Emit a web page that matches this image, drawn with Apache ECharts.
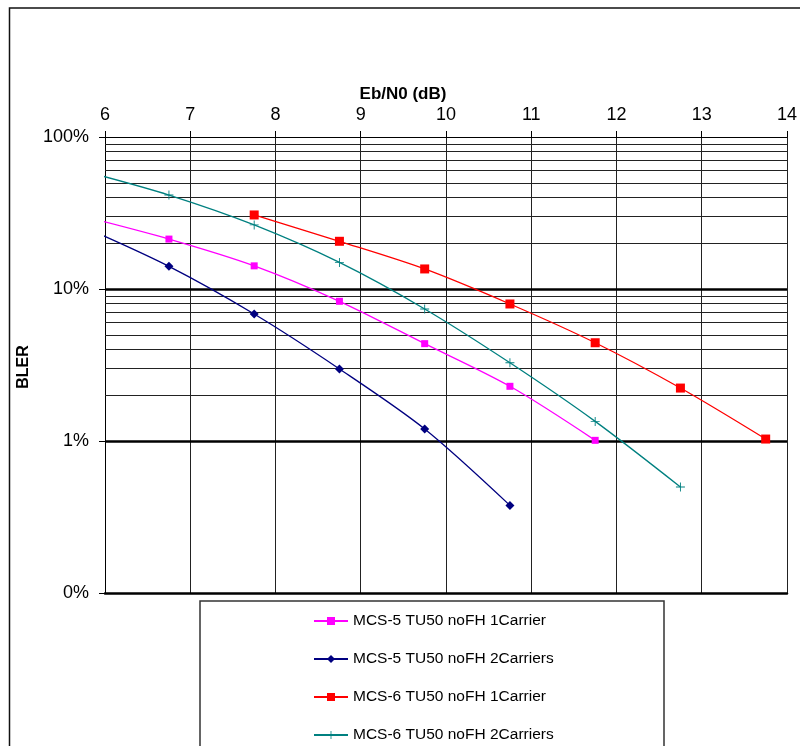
<!DOCTYPE html>
<html>
<head>
<meta charset="utf-8">
<script src="https://cdn.jsdelivr.net/npm/echarts@6/dist/echarts.min.js"></script>
<style>
  html, body { margin: 0; background: #fff; }
  #chart { width: 800px; height: 746px; }
</style>
</head>
<body>
<div id="chart"></div>
<script>
// series names, as in the legend
const seriesNames = [
  "MCS-5 TU50 noFH 1Carrier",
  "MCS-5 TU50 noFH 2Carriers",
  "MCS-6 TU50 noFH 1Carrier",
  "MCS-6 TU50 noFH 2Carriers",
];
const seriesColors = ["#FF00FF", "#000080", "#FF0000", "#008080"];

// Eb/N0 (dB) and BLER (fraction)
const ebn0Mcs5One = [5.75, 6.75, 7.75, 8.75, 9.75, 10.75, 11.75];
const blerMcs5One = [0.3, 0.213, 0.142, 0.083, 0.0437, 0.0229, 0.0101];
const ebn0Mcs5Two = [5.75, 6.75, 7.75, 8.75, 9.75, 10.75];
const blerMcs5Two = [0.256, 0.141, 0.0685, 0.0298, 0.012, 0.00377];
const ebn0Mcs6One = [7.75, 8.75, 9.75, 10.75, 11.75, 12.75, 13.75];
const blerMcs6One = [0.307, 0.206, 0.1355, 0.0797, 0.0443, 0.0223, 0.0103];
const ebn0Mcs6Two = [5.75, 6.75, 7.75, 8.75, 9.75, 10.75, 11.75, 12.75];
const blerMcs6Two = [0.597, 0.415, 0.264, 0.1496, 0.0739, 0.0327, 0.01346, 0.00498];

const xTicks = [6, 7, 8, 9, 10, 11, 12, 13, 14];
const decades = [0.001, 0.01, 0.1];
const minorSteps = [2, 3, 4, 5, 6, 7, 8, 9];
const heavyLines = [0.01, 0.1];

const pairs = (xs, ys) => ys.map((y, i) => [xs[i], y]);
const plusPath = "path://M0,3.6H8V4.4H0Z M3.6,0H4.4V8H3.6Z";

const minorGrid = [];
decades.forEach((d) => minorSteps.forEach((s) => minorGrid.push(+(d * s).toPrecision(3))));

const chart = echarts.init(document.getElementById("chart"));

const lineSeries = (idx, xs, ys, symbol, size) => ({
  name: seriesNames[idx],
  type: "line",
  data: pairs(xs, ys),
  smooth: 0.3,
  symbol: symbol,
  symbolSize: size,
  showSymbol: true,
  z: 5,
  itemStyle: { color: seriesColors[idx] },
  lineStyle: { color: seriesColors[idx], width: 1.3 },
  animation: false,
});

const labelFont = { color: "#000", fontFamily: "Liberation Sans", fontSize: 18 };

chart.setOption({
  backgroundColor: "#fff",
  animation: false,
  grid: { left: 105, top: 137, width: 685, height: 456, containLabel: false },
  xAxis: [
    {
      type: "value",
      position: "top",
      min: 6,
      max: 14,
      interval: 1,
      axisLine: { show: true, lineStyle: { color: "#000", width: 1 } },
      axisTick: { show: true, inside: false, length: 6, lineStyle: { color: "#000" } },
      axisLabel: Object.assign({ margin: 13, formatter: (v) => (xTicks.includes(v) ? String(v) : "") }, labelFont),
      splitLine: { show: true, lineStyle: { color: "#222", width: 1 } },
    },
    {
      type: "value",
      position: "bottom",
      min: 6,
      max: 14,
      interval: 1,
      axisLine: { show: true, lineStyle: { color: "#000", width: 2.5 } },
      axisTick: { show: false },
      axisLabel: { show: false },
      splitLine: { show: false },
    },
  ],
  yAxis: {
    type: "log",
    logBase: 10,
    min: 0.001,
    max: 1,
    axisLine: { show: true, lineStyle: { color: "#000", width: 1 } },
    axisTick: { show: true, inside: false, length: 6, lineStyle: { color: "#000" } },
    axisLabel: Object.assign({ margin: 16, formatter: (v) => Math.round(v * 100) + "%" }, labelFont),
    splitLine: { show: true, lineStyle: { color: "#000", width: 1 } },
    minorTick: { show: false },
    minorSplitLine: { show: false },
  },
  legend: {
    data: seriesNames,
    orient: "vertical",
    left: 308,
    top: 608,
    height: 138,
    itemWidth: 34,
    itemHeight: 10,
    itemGap: 22,
    textStyle: { color: "#000", fontFamily: "Liberation Sans", fontSize: 15.5 },
  },
  graphic: [
    {
      type: "rect",
      shape: { x: 9.5, y: 8, width: 800, height: 760 },
      style: { fill: "none", stroke: "#111", lineWidth: 1.5 },
      z: -10,
    },
    {
      type: "rect",
      shape: { x: 200, y: 601, width: 464, height: 170 },
      style: { fill: "#fff", stroke: "#333", lineWidth: 1.5 },
      z: -1,
    },
    {
      type: "text",
      x: 403,
      y: 94,
      style: {
        text: "Eb/N0 (dB)",
        font: "bold 17px 'Liberation Sans'",
        fill: "#000",
        align: "center",
        verticalAlign: "middle",
      },
    },
    {
      type: "text",
      x: 24,
      y: 367,
      rotation: Math.PI / 2,
      style: {
        text: "BLER",
        font: "bold 16px 'Liberation Sans'",
        fill: "#000",
        align: "center",
        verticalAlign: "middle",
      },
    },
  ],
  series: [
    {
      type: "line",
      data: [[6, 1]],
      symbol: "none",
      lineStyle: { width: 0 },
      z: 1,
      silent: true,
      markLine: {
        silent: true,
        symbol: "none",
        animation: false,
        label: { show: false },
        data: minorGrid
          .map((v) => ({ yAxis: v, lineStyle: { color: "#222", width: 1, type: "solid" } }))
          .concat(heavyLines.map((v) => ({ yAxis: v, lineStyle: { color: "#000", width: 2.5, type: "solid" } }))),
      },
    },
    lineSeries(0, ebn0Mcs5One, blerMcs5One, "rect", 7),
    lineSeries(1, ebn0Mcs5Two, blerMcs5Two, "diamond", 9),
    lineSeries(2, ebn0Mcs6One, blerMcs6One, "rect", 9),
    lineSeries(3, ebn0Mcs6Two, blerMcs6Two, plusPath, 9),
  ],
});
</script>
</body>
</html>
